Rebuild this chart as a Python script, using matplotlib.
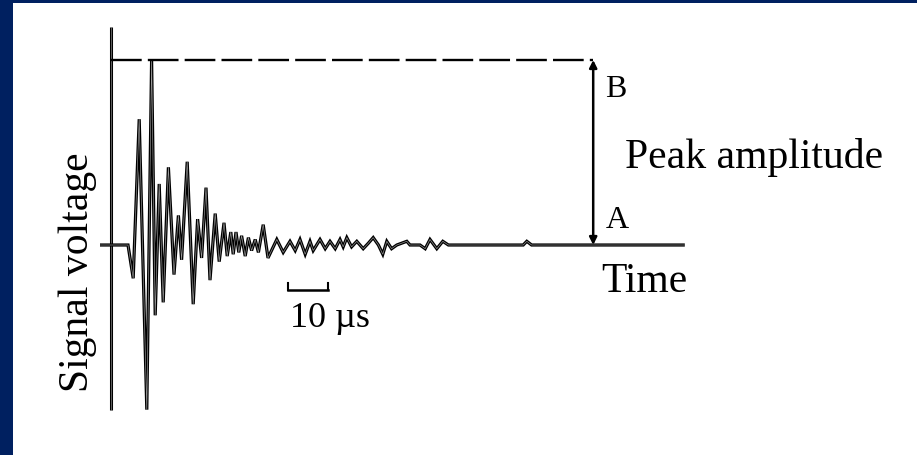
import matplotlib
matplotlib.use("Agg")
import matplotlib.pyplot as plt

# waveform: time in microseconds, voltage relative to peak
times = [-7.0, 0.0, 1.3, 2.8, 4.7, 5.9, 6.8, 7.8, 8.8, 10.1, 11.5, 12.6, 13.4,
         14.8, 16.3, 17.4, 18.4, 19.5, 20.5, 21.8, 22.8, 24.0, 24.8, 25.7,
         26.3, 27.0, 27.7, 28.4, 29.3, 30.1, 30.9, 31.8, 32.6, 33.8, 35.0,
         37.2, 38.8, 40.5, 41.8, 43.0, 44.3, 45.5, 46.3, 48.0, 49.3, 50.5,
         51.8, 53.0, 53.8, 54.7, 55.9, 57.2, 58.8, 60.1, 61.3, 62.6, 63.7,
         64.7, 65.9, 67.2, 69.7, 70.5, 73.0, 74.3, 75.5, 77.2, 78.7, 80.1,
         98.8, 99.7, 100.9, 139.2]
volts = [0.0, 0.0, -0.18, 0.68, -0.89, 1.0, -0.38, 0.33, -0.31, 0.42, -0.16,
         0.16, -0.08, 0.45, -0.32, 0.14, -0.07, 0.31, -0.19, 0.17, -0.09,
         0.12, -0.06, 0.07, -0.05, 0.07, -0.04, 0.05, -0.06, 0.04, -0.03,
         0.03, -0.04, 0.11, -0.07, 0.03, -0.04, 0.02, -0.03, 0.03, -0.05,
         0.02, -0.03, 0.03, -0.02, 0.02, -0.02, 0.03, -0.01, 0.04, -0.01,
         0.02, -0.02, 0.01, 0.04, 0.0, -0.05, 0.02, -0.02, 0.0, 0.02, 0.0,
         0.0, -0.02, 0.03, -0.02, 0.02, 0.0, 0.0, 0.02, 0.0, 0.0]

axis_time = -4.25            # where the voltage axis sits
axis_range = [-0.89, 1.18]   # extent of the voltage axis
marker_time = 116.3          # the A-B arrow
scale_start = 40.0           # 10 us scale bar
scale_len = 10.0
scale_level = -0.245

NAVY = "#002060"
plt.rcParams["font.family"] = ["Liberation Serif", "DejaVu Serif"]

fig = plt.figure(figsize=(9.17, 4.55), dpi=100, facecolor=NAVY)
ax = fig.add_axes([13 / 917, 0, 904 / 917, 452 / 455])
ax.set_facecolor("white")
ax.set_xlim(-28.75, 197.25)
ax.set_ylim(-1.135, 1.308)
for s in ax.spines.values():
    s.set_visible(False)
ax.set_xticks([])
ax.set_yticks([])

peak = max(volts)


def double_line(xs, ys, lw=2.2):
    # dark outline with a light core, like the original drawing
    ax.plot(xs, ys, color="black", lw=lw, solid_joinstyle="miter",
            solid_capstyle="butt")
    ax.plot(xs, ys, color="#9a9a9a", lw=lw * 0.2, solid_joinstyle="miter",
            solid_capstyle="butt")


double_line([axis_time, axis_time], axis_range, lw=2.2)
double_line(times, volts, lw=2.3)

ax.plot([axis_time, marker_time], [peak, peak], color="black", lw=1.7,
        linestyle=(0, (13, 2.6)))

ax.annotate("", xy=(marker_time, peak), xytext=(marker_time, 0),
            arrowprops=dict(arrowstyle="<|-|>", color="black", lw=1.8,
                            mutation_scale=11, shrinkA=0, shrinkB=0))

ax.plot([scale_start, scale_start + scale_len], [scale_level, scale_level],
        color="black", lw=1.8)
for t in (scale_start, scale_start + scale_len):
    ax.plot([t, t], [scale_level, scale_level + 0.04], color="black", lw=1.5)

ax.text(-12.5, -0.146, "Signal voltage", fontsize=30, rotation=90,
        ha="center", va="center")
ax.text(118.25, -0.254, "Time", fontsize=30, ha="left", va="baseline")
ax.text(124.25, 0.416, "Peak amplitude", fontsize=30, ha="left",
        va="baseline")
ax.text(119.25, 0.80, "B", fontsize=23, ha="left", va="baseline")
ax.text(119.5, 0.092, "A", fontsize=23, ha="left", va="baseline")
ax.text(40.5, -0.443, "10 \u00b5s", fontsize=26, ha="left", va="baseline")

fig.savefig("out.png", dpi=100, facecolor=NAVY)
